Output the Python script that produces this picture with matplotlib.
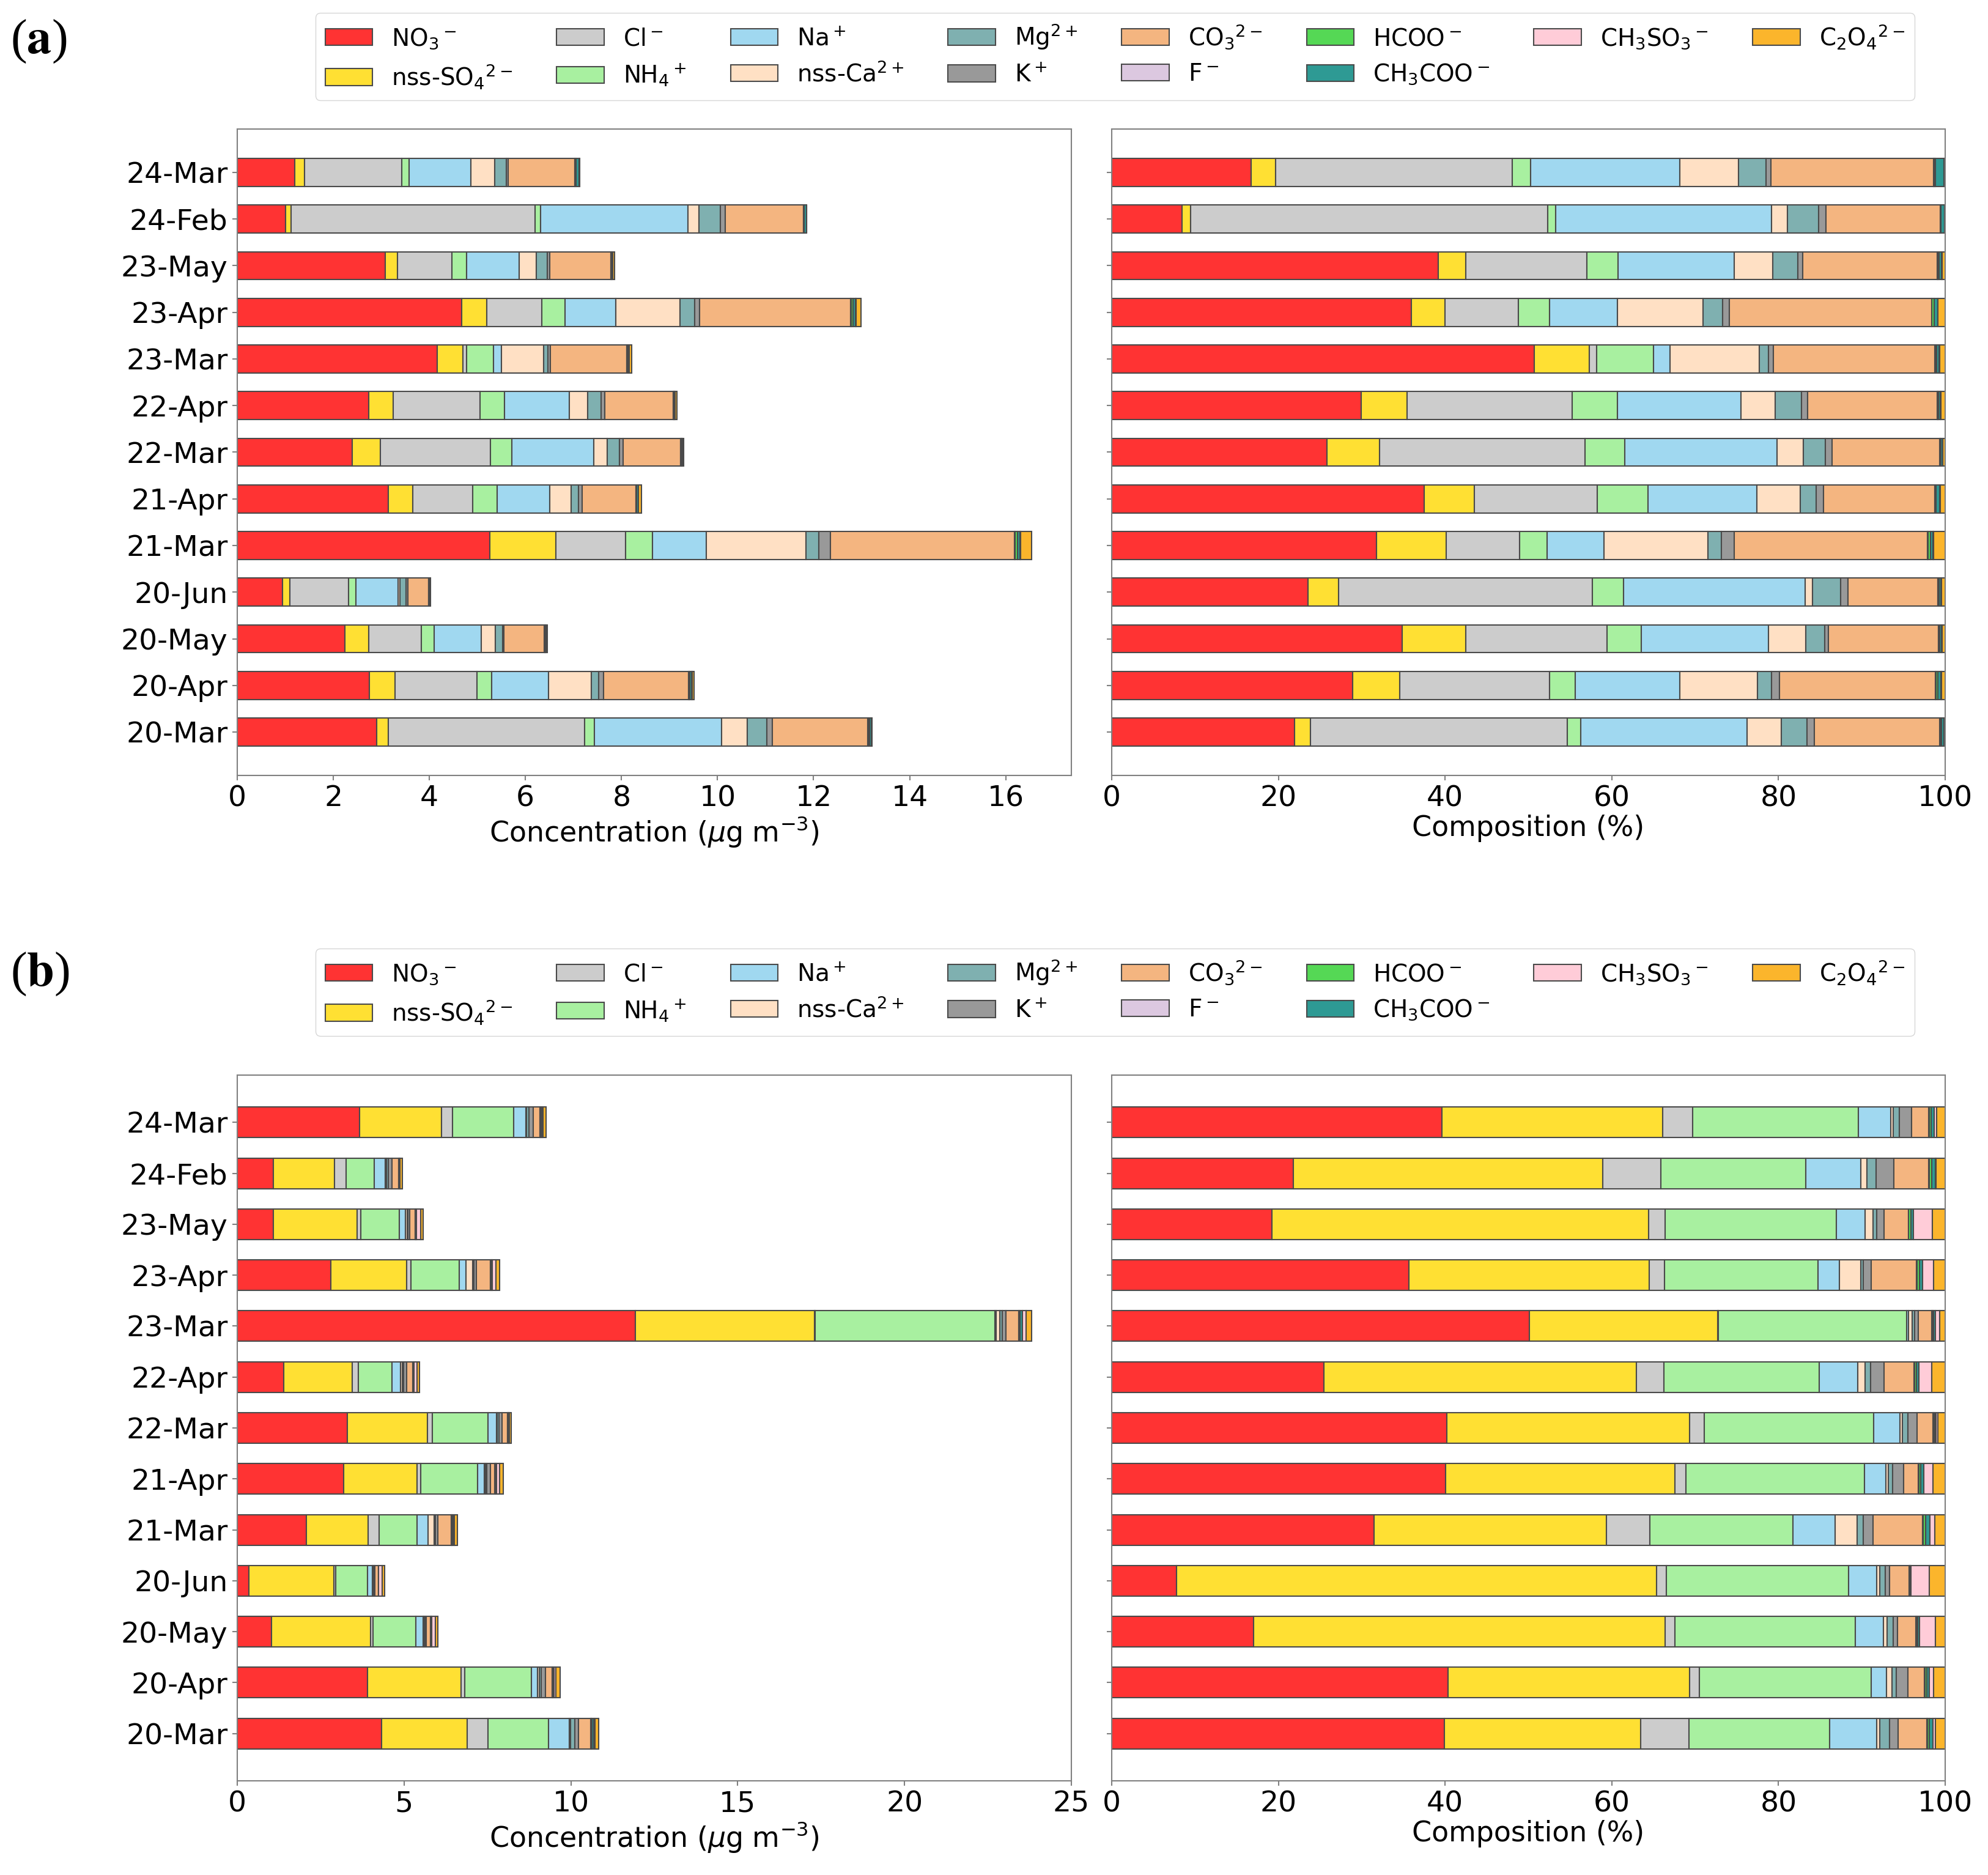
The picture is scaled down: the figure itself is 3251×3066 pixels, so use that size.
import numpy as np
import matplotlib
matplotlib.use("Agg")
import matplotlib.pyplot as plt

# ---------------- data ----------------
dates = ["20-Mar", "20-Apr", "20-May", "20-Jun", "21-Mar", "21-Apr", "22-Mar",
         "22-Apr", "23-Mar", "23-Apr", "23-May", "24-Feb", "24-Mar"]

species = ["NO$_3$$^-$", "nss-SO$_4$$^{2-}$", "Cl$^-$", "NH$_4$$^+$", "Na$^+$",
           "nss-Ca$^{2+}$", "Mg$^{2+}$", "K$^+$", "CO$_3$$^{2-}$", "F$^-$",
           "HCOO$^-$", "CH$_3$COO$^-$", "CH$_3$SO$_3$$^-$", "C$_2$O$_4$$^{2-}$"]

colors = ["#FF3333", "#FFE033", "#CCCCCC", "#A8F0A0", "#A0D8F0", "#FFE0C4",
          "#7FB0B0", "#999999", "#F4B580", "#DCC8E0", "#55D855", "#2E9A94",
          "#FFCCD8", "#FBB52C"]

# Panel (a): totals (ug m-3) and composition (%)
tot_a = [13.22, 9.51, 6.45, 4.02, 16.54, 8.41, 9.29, 9.16, 8.21, 12.99, 7.85, 11.86, 7.13]
a_no3 = [21.95, 28.92, 34.82, 23.58, 31.77, 37.44, 25.8, 29.9, 50.7, 35.93, 39.2, 8.45, 16.7]
a_so4 = [1.86, 5.64, 7.66, 3.61, 8.35, 6.06, 6.3, 5.54, 6.6, 4.03, 3.3, 1.05, 2.95]
a_cl = [30.88, 18.0, 16.96, 30.45, 8.78, 14.73, 24.66, 19.78, 0.86, 8.84, 14.5, 42.8, 28.4]
a_nh4 = [1.57, 3.11, 4.13, 3.76, 3.37, 6.06, 4.81, 5.46, 6.88, 3.7, 3.75, 0.95, 2.2]
a_na = [19.98, 12.55, 15.2, 21.79, 6.78, 13.1, 18.28, 14.84, 1.96, 8.2, 13.95, 25.9, 17.9]
a_ca = [4.1, 9.33, 4.52, 0.91, 12.51, 5.17, 3.11, 4.06, 10.72, 10.24, 4.6, 1.9, 7.05]
a_mg = [3.11, 1.64, 2.29, 3.35, 1.61, 1.94, 2.68, 3.15, 1.08, 2.36, 3.0, 3.75, 3.3]
a_k = [0.82, 0.98, 0.42, 0.91, 1.5, 0.85, 0.82, 0.77, 0.56, 0.8, 0.6, 0.9, 0.6]
a_co3 = [15.07, 18.74, 13.17, 10.74, 23.19, 13.33, 12.87, 15.57, 19.39, 24.25, 16.17, 13.7, 19.5]
a_f = [0.05, 0.05, 0.05, 0.05, 0.05, 0.05, 0.05, 0.05, 0.05, 0.05, 0.05, 0.05, 0.05]
a_hcoo = [0.15, 0.2, 0.1, 0.1, 0.3, 0.15, 0.1, 0.1, 0.15, 0.3, 0.15, 0.05, 0.2]
a_ch3coo = [0.3, 0.4, 0.25, 0.25, 0.35, 0.4, 0.2, 0.2, 0.35, 0.4, 0.3, 0.4, 1.0]
a_ch3so3 = [0.02, 0.05, 0.05, 0.05, 0.05, 0.05, 0.05, 0.05, 0.05, 0.05, 0.05, 0.02, 0.05]
a_c2o4 = [0.14, 0.44, 0.38, 0.45, 1.39, 0.62, 0.27, 0.53, 0.65, 0.85, 0.38, 0.08, 0.1]

# Panel (b)
tot_b = [10.84, 9.68, 6.01, 4.42, 6.59, 7.98, 8.22, 5.47, 23.8, 7.86, 5.58, 4.94, 9.25]
b_no3 = [39.9, 40.35, 17.03, 7.76, 31.51, 40.03, 40.19, 25.48, 50.11, 35.64, 19.23, 21.78, 39.63]
b_so4 = [23.63, 29.01, 49.39, 57.61, 27.87, 27.53, 29.17, 37.5, 22.6, 28.88, 45.16, 37.17, 26.46]
b_cl = [5.77, 1.15, 1.14, 1.21, 5.17, 1.31, 1.74, 3.27, 0.1, 1.8, 2.03, 6.91, 3.6]
b_nh4 = [16.84, 20.64, 21.62, 21.85, 17.2, 21.46, 20.31, 18.67, 22.59, 18.44, 20.53, 17.43, 19.88]
b_na = [5.66, 1.8, 3.44, 3.37, 5.07, 2.55, 3.18, 4.59, 0.2, 2.52, 3.44, 6.61, 3.87]
b_ca = [0.43, 0.65, 0.39, 0.33, 2.62, 0.33, 0.26, 0.88, 0.45, 2.56, 0.98, 0.69, 0.33]
b_mg = [1.11, 0.5, 0.76, 0.66, 0.72, 0.46, 0.65, 0.66, 0.3, 0.32, 0.43, 1.15, 0.72]
b_k = [1.08, 1.4, 0.49, 0.55, 1.15, 1.34, 1.15, 1.63, 0.45, 0.99, 0.88, 2.12, 1.41]
b_co3 = [3.44, 2.03, 2.23, 2.33, 5.99, 1.77, 1.87, 3.61, 1.6, 5.4, 2.89, 4.16, 2.12]
b_f = [0.05, 0.05, 0.05, 0.05, 0.05, 0.05, 0.05, 0.05, 0.05, 0.05, 0.05, 0.05, 0.05]
b_hcoo = [0.25, 0.2, 0.15, 0.08, 0.3, 0.25, 0.15, 0.2, 0.15, 0.3, 0.25, 0.3, 0.2]
b_ch3coo = [0.41, 0.34, 0.26, 0.1, 0.54, 0.36, 0.2, 0.27, 0.25, 0.4, 0.35, 0.45, 0.35]
b_ch3so3 = [0.32, 0.46, 1.89, 2.19, 0.55, 1.08, 0.2, 1.54, 0.5, 1.28, 2.23, 0.05, 0.35]
b_c2o4 = [1.16, 1.42, 1.16, 1.91, 1.26, 1.48, 0.88, 1.65, 0.65, 1.42, 1.55, 1.13, 1.0]

comp_a = [a_no3, a_so4, a_cl, a_nh4, a_na, a_ca, a_mg, a_k, a_co3, a_f,
          a_hcoo, a_ch3coo, a_ch3so3, a_c2o4]
comp_b = [b_no3, b_so4, b_cl, b_nh4, b_na, b_ca, b_mg, b_k, b_co3, b_f,
          b_hcoo, b_ch3coo, b_ch3so3, b_c2o4]

# ---------------- figure ----------------
W, H = 3251, 3066
fig = plt.figure(figsize=(W / 100, H / 100), dpi=100)

TICK_FS = 34
LABEL_FS = 33
LEG_FS = 28
EDGE = "#4a4a4a"
SPINE = "#808080"
LW = 1.5
BAR_H = 0.6


def px_axes(x0, x1, y0, y1):
    return fig.add_axes([x0 / W, 1 - y1 / H, (x1 - x0) / W, (y1 - y0) / H])


def draw_panel(comp, totals, y_top, y_bot, leg_y, tag, tag_y, xmax=None):
    comp = np.array(comp, dtype=float)
    totals = np.array(totals, dtype=float)
    conc = comp / comp.sum(axis=0) * totals  # concentration of each species
    pct = conc / conc.sum(axis=0) * 100.0
    y = np.arange(len(dates))

    axL = px_axes(388, 1752, y_top, y_bot)
    axR = px_axes(1818, 3181, y_top, y_bot)

    handles = []
    left = np.zeros(len(dates))
    leftp = np.zeros(len(dates))
    for i, name in enumerate(species):
        h = axL.barh(y, conc[i], left=left, height=BAR_H, color=colors[i],
                     edgecolor=EDGE, linewidth=LW, label=name)
        axR.barh(y, pct[i], left=leftp, height=BAR_H, color=colors[i],
                 edgecolor=EDGE, linewidth=LW)
        left += conc[i]
        leftp += pct[i]
        handles.append(h)

    if xmax is not None:
        axL.set_xlim(0, xmax)
    axL.set_yticks(y)
    axL.set_yticklabels(dates, fontsize=TICK_FS)
    axR.set_yticks(y)
    axR.set_yticklabels([])
    axR.set_xlim(0, 100)
    for ax in (axL, axR):
        ax.tick_params(axis="x", labelsize=TICK_FS, length=6, width=1.5,
                       color=SPINE, pad=5)
        ax.tick_params(axis="y", length=6, width=1.5, color=SPINE, pad=5)
        for s in ax.spines.values():
            s.set_color(SPINE)
            s.set_linewidth(1.5)
    axL.set_xlabel(r"Concentration ($\mu$g m$^{-3}$)", fontsize=LABEL_FS, labelpad=3)
    axR.set_xlabel("Composition (%)", fontsize=LABEL_FS, labelpad=3)

    fig.legend(handles=handles, labels=species, loc="upper left",
               bbox_to_anchor=(516 / W, 1 - leg_y / H), borderaxespad=0,
               ncol=8, fontsize=LEG_FS, frameon=True, handlelength=2.0,
               handletextpad=0.8, columnspacing=1.85, labelspacing=0.5)
    fig.text(17 / W, 1 - tag_y / H, r"($\mathbf{" + tag + r"}$)", fontsize=58,
             family="Liberation Serif", math_fontfamily="stix",
             va="center", ha="left")
    return axL, axR


draw_panel(comp_a, tot_a, 211, 1268, 21, "a", 68)
draw_panel(comp_b, tot_b, 1758, 2912, 1551, "b", 1593, xmax=25)

fig.savefig("out.png", dpi=100)
